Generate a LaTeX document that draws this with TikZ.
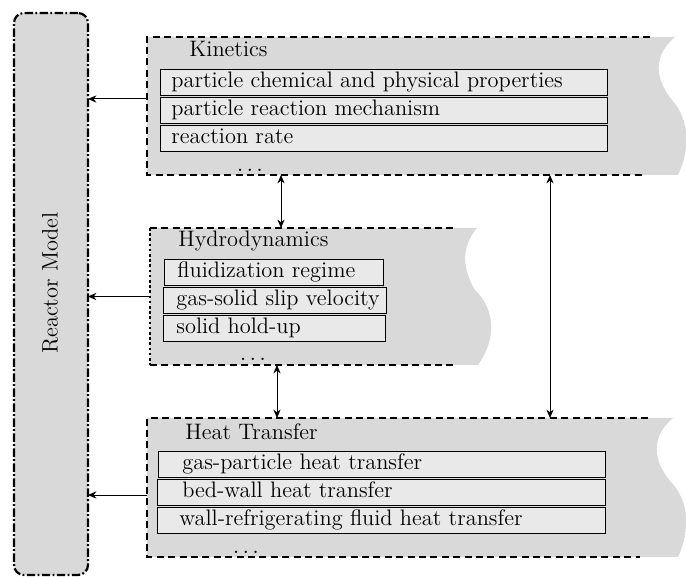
\documentclass[tikz,border=0pt]{standalone}
\usetikzlibrary{arrows.meta}
\definecolor{panelgray}{HTML}{D9D9D9}
\definecolor{boxgray}{HTML}{E9E9E9}
\begin{document}
\begin{tikzpicture}[x=0.5pt,y=-0.5pt,
  font=\fontsize{11.2}{13}\selectfont,
  panelborder/.style={line width=1pt, dash pattern=on 3.5pt off 2.2pt},
  ibox/.style={draw, line width=0.5pt, fill=boxgray, inner sep=0pt, anchor=north west, minimum height=13pt},
  itext/.style={anchor=west, inner sep=0pt, text height=7.6pt, text depth=2.3pt},
  title/.style={anchor=base west, inner sep=0pt},
  dotsl/.style={anchor=base, inner sep=0pt},
  region/.style={inner sep=0pt, outer sep=0pt, anchor=north west},
  tip/.tip={Stealth[length=4.2pt,width=3.6pt]},
  conn/.style={line width=0.5pt, -tip},
  both/.style={line width=0.5pt, tip-tip}
]
\useasboundingbox (0,0) rectangle (686,577);

% Reactor model column
\node[region, minimum width=37pt, minimum height=281pt, fill=panelgray, draw,
      rounded corners=5pt, line width=1.1pt,
      dash pattern=on 4.2pt off 1.2pt on 0.9pt off 1.2pt] (rm) at (14,13) {};
\node[rotate=90, inner sep=0pt] (rmt) at (50,283) {Reactor Model};

% Kinetics panel
\fill[panelgray] (147,37) -- (675,37) .. controls (648,60) and (660,85) .. (672,100)
  .. controls (690,120) and (690,150) .. (678,175) -- (147,175) -- cycle;
\draw[panelborder] (650,37) -- (147,37) -- (147,175) -- (643,175);
\node[region, minimum width=269.5pt, minimum height=69pt] (kin) at (147,37) {};
\node[title] (kinl) at (189,57) {Kinetics};
\node[ibox, minimum width=223.5pt] (k1) at (160,69) {};
\node[itext] (k1t) at ([xshift=5.5pt]k1.west) {particle chemical and physical properties};
\node[ibox, minimum width=223.5pt] (k2) at (160,97) {};
\node[itext] (k2t) at ([xshift=5.5pt]k2.west) {particle reaction mechanism};
\node[ibox, minimum width=223.5pt] (k3) at (160,125) {};
\node[itext] (k3t) at ([xshift=5.5pt]k3.west) {reaction rate};
\node[dotsl] (kind) at (250,172) {$\ldots$};

% Hydrodynamics panel
\fill[panelgray] (150,228) -- (477,228) .. controls (460,248) and (463,270) .. (475,290)
  .. controls (496,310) and (496,340) .. (478,365) -- (150,365) -- cycle;
\draw[panelborder] (150,228) -- (456,228);
\draw[panelborder] (150,365) -- (453,365);
\draw[line width=1.3pt, dash pattern=on 1.3pt off 1.3pt] (150,228) -- (150,365);
\node[region, minimum width=163.5pt, minimum height=68.5pt] (hyd) at (150,228) {};
\node[title] (hydl) at (178,247) {Hydrodynamics};
\node[ibox, minimum width=109.5pt] (h1) at (164,259) {};
\node[itext] (h1t) at ([xshift=6.5pt]h1.west) {fluidization regime};
\node[ibox, minimum width=111.5pt] (h2) at (163,287) {};
\node[itext] (h2t) at ([xshift=6.5pt]h2.west) {gas-solid slip velocity};
\node[ibox, minimum width=111pt] (h3) at (163,315) {};
\node[itext] (h3t) at ([xshift=6.5pt]h3.west) {solid hold-up};
\node[dotsl] (hydd) at (253,361) {$\ldots$};

% Heat transfer panel
\fill[panelgray] (147,418) -- (673,418) .. controls (646,441) and (658,466) .. (670,481)
  .. controls (690,501) and (690,531) .. (678,557) -- (147,557) -- cycle;
\draw[panelborder] (648,418) -- (147,418) -- (147,557) -- (640,557);
\node[region, minimum width=269.5pt, minimum height=69.5pt] (heat) at (147,418) {};
\node[title] (heatl) at (185,440) {Heat Transfer};
\node[ibox, minimum width=223.5pt] (t1) at (158,451) {};
\node[itext] (t1t) at ([xshift=12pt]t1.west) {gas-particle heat transfer};
\node[ibox, minimum width=224pt] (t2) at (157,479) {};
\node[itext] (t2t) at ([xshift=12.5pt]t2.west) {bed-wall heat transfer};
\node[ibox, minimum width=224pt] (t3) at (157,507) {};
\node[itext] (t3t) at ([xshift=11pt]t3.west) {wall-refrigerating fluid heat transfer};
\node[dotsl] (heatd) at (246,553) {$\ldots$};

% Connectors
\draw[conn] ([yshift=3.5pt]kin.west) -- ([yshift=3.5pt]kin.west -| rm.east);
\draw[conn] (hyd.west) -- (hyd.west -| rm.east);
\draw[conn] ([yshift=-3.75pt]heat.west) -- ([yshift=-3.75pt]heat.west -| rm.east);
\draw[both] (kin.south -| 281,0) -- (hyd.north -| 281,0);
\draw[both] (hyd.south -| 277,0) -- (heat.north -| 277,0);
\draw[both] (kin.south -| 550,0) -- (heat.north -| 550,0);
\end{tikzpicture}
\end{document}
